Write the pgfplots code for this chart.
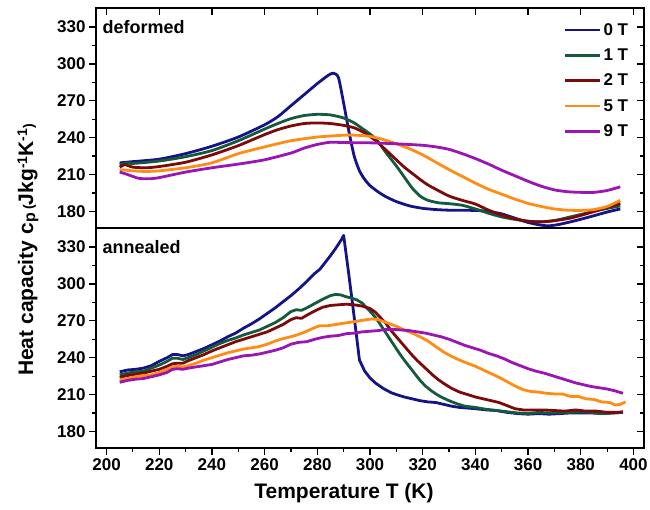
\documentclass[border=0pt]{standalone}
\usepackage{fontspec}
\setmainfont{Liberation Sans}
\usepackage{pgfplots}
\pgfplotsset{compat=1.18}
\definecolor{c0}{RGB}{20,20,135}
\definecolor{c1}{RGB}{20,90,60}
\definecolor{c2}{RGB}{125,10,10}
\definecolor{c5}{RGB}{255,140,20}
\definecolor{c9}{RGB}{155,20,180}
\pgfplotsset{
  base/.style={
    scale only axis, width=548pt, height=220pt,
    xmin=196, xmax=404, ymin=166.5, ymax=345.5,
    axis line style={line width=1.4pt},
    every tick/.style={black, line width=1.2pt},
    major tick length=7pt, minor tick length=4pt,
    ytick={180,210,...,330}, xtick={200,220,...,400},
    minor y tick num=1,
    tick label style={font=\fontsize{17}{20}\selectfont\bfseries},
    /pgf/number format/assume math mode=true,
    anchor=south west,
  },
  curve/.style={line width=2.8pt, line join=round, no markers},
}
\begin{document}
\begin{tikzpicture}
\useasboundingbox (-96pt,-61pt) rectangle (554pt,448pt);
% ---------------- top panel (deformed) ----------------
\begin{axis}[base, at={(0pt,220pt)}, tick align=outside, ytick pos=left, xtick=\empty,
  legend style={at={(rel axis cs:0.975,0.94)}, anchor=north east, draw=none, fill=none,
    font=\fontsize{17}{20}\selectfont\bfseries, row sep=8pt, inner sep=0pt},
  legend cell align=left,
  legend image code/.code={\draw[#1, line width=2.8pt] (0pt,0pt) -- (35pt,0pt);},
]
\addplot[curve, c0, smooth, tension=0.4] coordinates {
(205,219.5)(210,220.5)(220,222.5)(230,227)(240,233)(250,240.5)(260,250.5)(265,257)(270,266)(275,275)(280,284)(284,290.5)(286,292.5)(288,289)(290,268)(292,245)(294,225)(296,213)(298,206)(300,201)(303,196)(306,192)(310,188)(315,184.5)(320,182.5)(325,181.5)(330,181)(340,180.8)(345,180)(350,178)(355,174.5)(360,171)(365,168.8)(368,168.3)(372,169.5)(378,172.5)(385,176.5)(390,179.5)(395,182)};
\addlegendentry{0 T}
\addplot[curve, c1, smooth, tension=0.4] coordinates {
(205,218)(208,219.5)(210,219)(220,221)(230,224.5)(240,229.5)(250,237.5)(260,247)(265,251.5)(270,255.5)(275,258)(280,259)(285,258.5)(290,256)(294,252)(297,247.5)(300,243)(303,237)(306,228)(310,217)(313,208)(316,199)(319,192.5)(322,189)(326,187)(330,186.3)(335,185)(340,182)(345,178.5)(350,175.5)(355,173.5)(360,172)(365,171.5)(370,172.5)(376,175.5)(382,178.5)(388,181.5)(395,184.5)};
\addlegendentry{1 T}
\addplot[curve, c2, smooth, tension=0.4] coordinates {
(205,216)(207,218)(210,216)(215,215.5)(220,216.5)(230,220)(240,226)(250,233.5)(260,242.5)(265,246.5)(270,249.5)(275,251.5)(280,252)(285,251.5)(290,250)(294,248)(297,245)(300,241)(303,236)(306,230)(310,222)(313,216)(316,211)(319,206)(322,201.5)(325,198)(330,192.5)(335,189)(340,186)(345,181)(350,177)(355,174)(360,172)(365,171.5)(370,172.5)(376,174.5)(382,178)(388,182)(395,186.5)};
\addlegendentry{2 T}
\addplot[curve, c5, smooth, tension=0.4] coordinates {
(205,214)(210,213)(215,212.5)(220,213)(230,215.5)(240,219.5)(250,227)(260,232.5)(270,237.5)(280,240.5)(290,242)(295,242)(300,241)(305,238.5)(310,235)(315,231)(320,226)(325,220)(330,214)(335,208.5)(340,203)(345,198)(350,194)(355,190)(360,186.5)(365,184)(370,182)(375,181)(380,180.8)(385,181.5)(390,184)(395,189)};
\addlegendentry{5 T}
\addplot[curve, c9, smooth, tension=0.4] coordinates {
(205,212)(208,210)(212,207)(216,206.5)(220,207.5)(230,212)(240,215.5)(250,218.5)(260,222)(270,227.5)(275,231.5)(280,234.5)(285,236.3)(290,236)(300,235.8)(310,235)(320,233.8)(325,232.5)(330,230.5)(335,227)(340,223)(345,218.5)(350,213.5)(355,209)(360,204.5)(365,200.5)(370,197.5)(375,196)(380,195.5)(385,195.5)(390,197)(395,200)};
\addlegendentry{9 T}
\end{axis}
\begin{axis}[base, at={(0pt,220pt)}, tick align=inside, ytick pos=right, xtick pos=right,
  xticklabels={}, yticklabels={}]
\end{axis}
% ---------------- bottom panel (annealed) ----------------
\begin{axis}[base, at={(0pt,0pt)}, tick align=outside, ytick pos=left, xtick pos=left,
  minor x tick num=1]
\addplot[curve, c0] coordinates {
(205,228.5)(208,230)(211,230.5)(214,231.5)(217,233.5)(220,237)(223,240)(225,242.5)(227,242.5)(229,241.5)(231,242.5)(234,245)(237,247.5)(240,250.5)(243,253.5)(246,257)(249,260)(252,264)(255,267.5)(258,271.5)(261,276)(264,280.5)(267,285.5)(270,290.5)(273,296)(276,302)(279,308.5)(281,312)(283,317.5)(285,323)(287,329)(289,335.5)(290,339.5)(292,307)(294,273)(296,238)(298,229)(300,223.5)(302,219.5)(305,215)(308,211.5)(310,210)(313,208)(316,206.5)(319,205)(322,204)(325,203.5)(328,202)(331,200.5)(334,199.5)(337,199)(340,198.5)(344,197.5)(348,197)(352,195.5)(356,194.5)(360,194)(364,194.5)(368,194)(372,194.5)(376,195)(380,195)(384,195)(388,194.5)(392,195)(396,195.5)};
\addplot[curve, c1] coordinates {
(205,226)(208,227.5)(211,228.5)(214,229)(217,231.5)(220,234)(223,237)(225,239.5)(227,239.5)(229,238.5)(231,240)(234,242.5)(237,245.5)(240,248.5)(243,251.5)(246,254)(249,256)(252,258.5)(255,260.5)(258,262.5)(261,265.5)(264,268.5)(267,272.5)(270,277.5)(272,279)(274,278.5)(276,280.5)(279,284)(282,287.5)(285,290.5)(287,291.5)(289,291)(291,289.5)(293,288.5)(295,287)(297,284.5)(299,280)(301,275.5)(303,270)(305,263.5)(307,257)(309,250.5)(311,244)(313,238)(315,232.5)(317,227)(319,221.5)(321,217)(323,213.5)(325,210.5)(327,208)(330,205)(333,202.5)(336,200.5)(340,199.5)(344,198)(348,197)(352,196)(356,195)(360,194.5)(364,195.5)(368,195)(372,195.5)(376,195.5)(380,196)(384,195.5)(388,194.5)(392,195)(396,195.5)};
\addplot[curve, c2] coordinates {
(205,224)(208,225.5)(211,226.5)(214,227.5)(217,229)(220,230.5)(223,233)(225,235)(227,235.5)(229,235.5)(231,237.5)(234,240)(237,242.5)(240,245.5)(243,248)(246,250.5)(249,253)(252,255)(255,257)(258,259)(261,261)(264,264)(267,267)(270,271)(272,272.5)(274,272)(276,274.5)(279,278)(282,281)(285,282.5)(288,283)(291,283.5)(294,283)(297,282)(300,280)(302,277)(304,272.5)(306,268)(308,262)(310,257)(312,252)(314,247)(316,242)(318,237.5)(320,233.5)(322,229.5)(324,225.5)(326,222)(328,219)(331,215)(334,212)(337,210)(340,208)(343,206.5)(346,205)(349,203.5)(352,201)(355,198.5)(358,197.5)(362,197.5)(366,197.5)(370,197)(374,196.5)(378,197.5)(382,196.5)(386,196.5)(390,195.5)(394,195.5)(396,196)};
\addplot[curve, c5] coordinates {
(205,222)(208,223)(211,224.5)(214,225.5)(217,226)(220,228)(223,230.5)(225,232.5)(227,233)(229,232.5)(231,233.5)(234,235.5)(237,238)(240,240)(243,242)(246,244)(249,245.5)(252,247)(255,248)(258,249)(261,251)(264,253.5)(267,255.5)(270,257)(273,259)(276,261.5)(279,264.5)(281,266)(284,266)(287,267)(290,268)(293,269)(296,270)(299,271)(301,271.5)(303,271)(305,269.5)(307,268)(310,265.5)(313,262.5)(316,260)(319,257)(322,253.5)(325,249)(328,244.5)(331,241)(334,238)(337,235.5)(340,233)(343,230)(346,227)(349,224)(352,220.5)(355,217)(358,214)(361,212.5)(364,212)(367,211)(370,210.5)(373,210.5)(376,208.5)(379,208.5)(382,206.5)(385,206)(388,204)(391,203.5)(393,201.5)(395,202)(397,204)};
\addplot[curve, c9] coordinates {
(205,220)(208,221.5)(211,222.5)(214,223)(217,224.5)(220,226)(223,228)(225,230.5)(227,231)(229,230.5)(231,231.5)(234,232.5)(237,233.5)(240,234.5)(243,236.5)(246,238.5)(249,240)(252,241.5)(255,242)(258,243)(261,244.5)(264,246)(267,248)(270,251)(273,252.5)(276,253)(279,255)(282,256.5)(285,257.5)(288,258)(291,259.5)(294,260)(297,261)(300,261.5)(303,262)(306,263)(309,263)(312,262.5)(315,262)(318,261)(321,260)(324,258.5)(327,257)(330,255)(333,252.5)(336,250)(339,248)(342,246)(345,243.5)(348,241.5)(351,239)(354,236)(357,233.5)(360,231)(363,229)(366,227.5)(369,225.5)(372,223.5)(375,221.5)(378,219.5)(381,218)(384,216.5)(387,215.5)(390,214.5)(393,213)(396,211)};
\end{axis}
\begin{axis}[base, at={(0pt,0pt)}, tick align=inside, ytick pos=right, xtick=\empty,
  yticklabels={}]
\end{axis}
% ---------------- texts ----------------
\node[anchor=west, font=\fontsize{18}{21}\selectfont\bfseries] at (3pt,421pt) {deformed};
\node[anchor=west, font=\fontsize{18}{21}\selectfont\bfseries] at (3pt,201pt) {annealed};
\node[font=\fontsize{21}{24}\selectfont\bfseries] at (248pt,-45pt) {Temperature T (K)};
\node[rotate=90, font=\fontsize{21}{24}\selectfont\bfseries] at (-68pt,198pt)
  {Heat capacity c\raisebox{-2pt}{\fontsize{16}{18}\selectfont p}\,{\fontsize{14}{16}\selectfont(}Jkg\raisebox{6pt}{\fontsize{14}{16}\selectfont -1}K\raisebox{6pt}{\fontsize{14}{16}\selectfont -1}{\fontsize{14}{16}\selectfont)}};
\end{tikzpicture}
\end{document}
